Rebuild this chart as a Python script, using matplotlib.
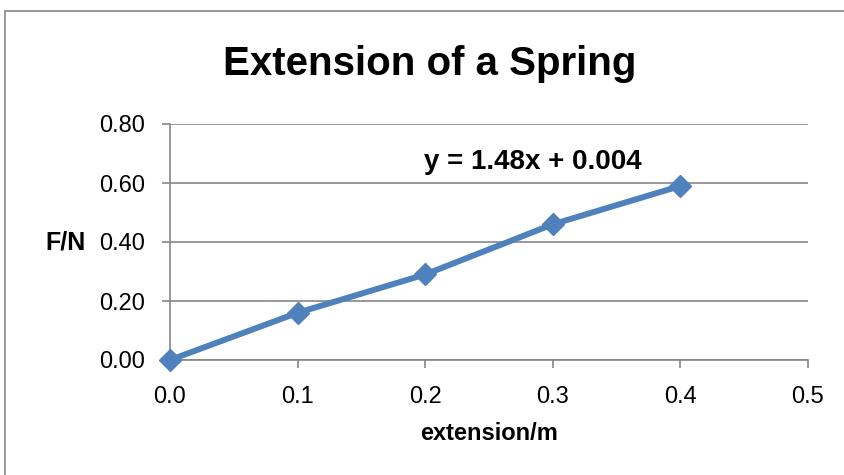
import matplotlib
matplotlib.use("Agg")
import matplotlib.pyplot as plt
from matplotlib.patches import Rectangle

# spring data
extension = [0.0, 0.1, 0.2, 0.3, 0.4]
force = [0.0, 0.16, 0.29, 0.46, 0.59]
x_ticks = [0.0, 0.1, 0.2, 0.3, 0.4, 0.5]
y_ticks = [0.0, 0.2, 0.4, 0.6, 0.8]
title = "Extension of a Spring"
equation = "y = 1.48x + 0.004"

plt.rcParams['font.family'] = ['Liberation Sans', 'DejaVu Sans']

blue = '#4F81BD'
grey = '#868686'

fig = plt.figure(figsize=(8.45, 4.75), dpi=100)
fig.patch.set_facecolor('white')

# chart frame (extends past right/bottom edge)
fig.patches.append(Rectangle((5/845, -0.2), 1.2, 1 - 11/475 + 0.2, transform=fig.transFigure,
                             fill=False, edgecolor=grey, linewidth=1.2))

ax = fig.add_axes([170/845, 1 - 360/475, 638/845, 236/475])
ax.plot(extension, force, color=blue, linewidth=4.3, marker='D', markersize=11,
        markerfacecolor=blue, markeredgecolor=blue, clip_on=False, zorder=3)

ax.set_xlim(0, 0.5)
ax.set_ylim(0, 0.8)
ax.set_xticks(x_ticks)
ax.set_yticks(y_ticks)
ax.set_xticklabels(["%.1f" % v for v in x_ticks])
ax.set_yticklabels(["%.2f" % v for v in y_ticks])
ax.tick_params(axis='both', labelsize=17, colors=grey, labelcolor='black', length=6, width=1.2)
ax.tick_params(axis='x', pad=13)
ax.tick_params(axis='y', pad=12)

ax.yaxis.grid(True, color=grey, linewidth=1.2)
ax.set_axisbelow(True)
for s in ['top', 'right']:
    ax.spines[s].set_visible(False)
for s in ['left', 'bottom']:
    ax.spines[s].set_color(grey)
    ax.spines[s].set_linewidth(1.2)

ax.set_ylabel("F/N", rotation=0, fontsize=18, fontweight='bold', ha='right', va='center')
ax.yaxis.set_label_coords(-0.133, 0.5)
ax.set_xlabel("extension/m", fontsize=17, fontweight='bold', va='center')
ax.xaxis.set_label_coords(0.5, -0.31)

ax.text(0.2845, 0.671, equation, fontsize=20, fontweight='bold', ha='center', va='center')

fig.text(430/845, 1 - 64/475, title, fontsize=29, fontweight='bold', ha='center', va='center')

fig.savefig("out.png", dpi=100)
